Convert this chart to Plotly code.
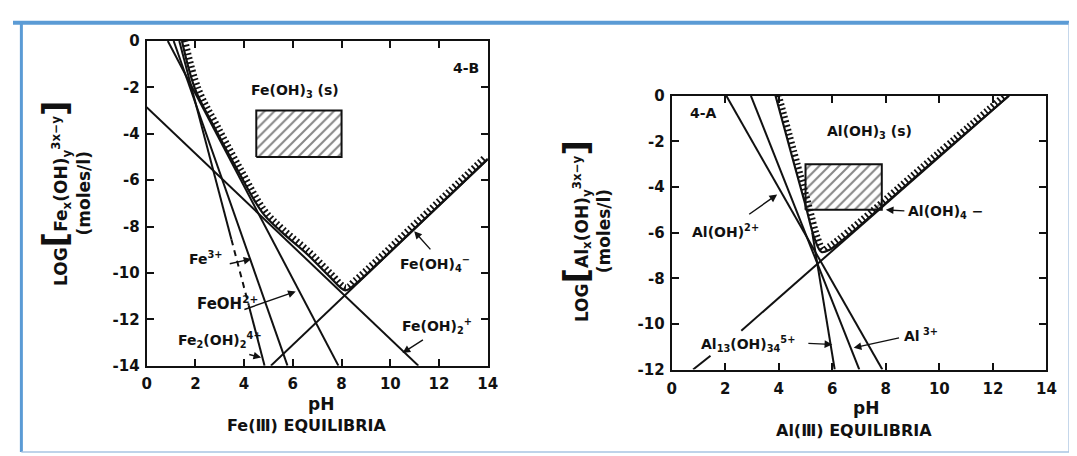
import numpy as np
import plotly.graph_objects as go

W, H = 1077, 456
FONT = "DejaVu Sans"
INK = "#111111"

# ---------------- Fe(III) panel ----------------
fe_ticks = [0, 2, 4, 6, 8, 10, 12, 14]
fe_ytick_vals = [0, -2, -4, -6, -8, -10, -12, -14]
fe_ytick_text = ["0", "-2", "-4", "-6", "-8", "-10", "-12", "-14"]

feoh2_ph, feoh2_log = [0.87, 7.87], [0.0, -14.0]          # FeOH2+
fe3_ph, fe3_log = [1.11, 5.78], [0.0, -14.0]              # Fe3+
fe2oh2_ph = [1.34, 3.48, 4.19, 4.84]                      # Fe2(OH)2 4+
fe2oh2_log = [0.0, -8.56, -11.39, -14.0]
feoh2p_ph, feoh2p_log = [0.0, 11.15], [-2.85, -14.0]      # Fe(OH)2+
feoh4_ph, feoh4_log = [5.1, 14.0], [-14.0, -5.1]          # Fe(OH)4-
fe_sol_ph = [1.45, 2.0, 2.8, 3.75, 4.75, 5.5, 6.6, 7.5, 8.15, 8.6, 9.5, 11.0, 12.5, 14.0]
fe_sol_log = [0.0, -2.1, -3.75, -5.6, -7.4, -8.2, -9.2, -10.15, -10.75, -10.45, -9.58, -8.08, -6.58, -5.08]
fe_box_ph, fe_box_log = [4.5, 8.0], [-5.0, -3.0]

# ---------------- Al(III) panel ----------------
al_ticks = [0, 2, 4, 6, 8, 10, 12, 14]
al_ytick_vals = [0, -2, -4, -6, -8, -10, -12]
al_ytick_text = ["0", "-2", "-4", "-6", "-8", "-10", "-12"]

aloh_ph, aloh_log = [2.04, 7.87], [0.0, -12.0]            # Al(OH)2+
al3_ph, al3_log = [2.96, 7.01], [0.0, -12.0]              # Al3+
al13_ph, al13_log = [5.25, 6.09], [-6.0, -12.0]           # Al13(OH)34 5+
aloh4a_ph, aloh4a_log = [0.8, 1.45], [-12.0, -11.4]       # Al(OH)4- (lower piece)
aloh4b_ph, aloh4b_log = [2.6, 12.6], [-10.3, 0.0]         # Al(OH)4- (main piece)
al_sol_ph = [3.88, 4.6, 5.0, 5.35, 5.6, 5.9, 6.3, 7.0, 8.0, 10.0, 12.6]
al_sol_log = [0.0, -3.1, -4.8, -6.3, -6.85, -6.75, -6.4, -5.72, -4.7, -2.64, 0.0]
al_box_ph, al_box_log = [5.0, 7.85], [-5.0, -3.0]

# ---------------- geometry ----------------
L = dict(x0=135.5, x1=481.5, y0=25, y1=363, xr=[0, 14], yr=[-14, 0])
R = dict(x0=668, x1=1048, y0=82, y1=367, xr=[0, 14], yr=[-12, 0])


def px_scale(p):
    sx = (p["x1"] - p["x0"]) / (p["xr"][1] - p["xr"][0])
    sy = (p["y1"] - p["y0"]) / (p["yr"][1] - p["yr"][0])
    return sx, sy


def hatch_offset(xs, ys, p, d):
    """Shift a curve by d pixels along its upper normal (for the hatch ticks)."""
    sx, sy = px_scale(p)
    X = np.asarray(xs, float) * sx
    Y = np.asarray(ys, float) * sy
    tx, ty = np.gradient(X), np.gradient(Y)
    n = np.hypot(tx, ty)
    nx, ny = -ty / n, tx / n
    return list((X + d * nx) / sx), list((Y + d * ny) / sy)


fig = go.Figure()


def line(xs, ys, xa, ya, dash="solid", width=2.0, shape="linear"):
    fig.add_trace(go.Scatter(x=xs, y=ys, xaxis=xa, yaxis=ya, mode="lines",
                             line=dict(color=INK, width=width, dash=dash, shape=shape),
                             hoverinfo="skip", showlegend=False))


def box(xs, ys, xa, ya):
    fig.add_trace(go.Scatter(x=[xs[0], xs[1], xs[1], xs[0], xs[0]],
                             y=[ys[0], ys[0], ys[1], ys[1], ys[0]],
                             xaxis=xa, yaxis=ya, mode="lines", fill="toself",
                             fillcolor="white",
                             fillpattern=dict(shape="/", fgcolor=INK, bgcolor="white",
                                              size=7, solidity=0.3),
                             line=dict(color=INK, width=2),
                             hoverinfo="skip", showlegend=False))


def solubility(xs, ys, xa, ya, p):
    hx, hy = hatch_offset(xs, ys, p, 3.4)
    fig.add_trace(go.Scatter(x=hx, y=hy, xaxis=xa, yaxis=ya, mode="lines",
                             line=dict(color=INK, width=6, dash="1.8px,2.6px", shape="spline"),
                             hoverinfo="skip", showlegend=False))
    line(xs, ys, xa, ya, width=2.2, shape="spline")


# Fe panel
box(fe_box_ph, fe_box_log, "x", "y")
line(feoh2_ph, feoh2_log, "x", "y")
line(fe3_ph, fe3_log, "x", "y")
line(fe2oh2_ph[:2], fe2oh2_log[:2], "x", "y")
line(fe2oh2_ph[1:3], fe2oh2_log[1:3], "x", "y", dash="6px,5px")
line(fe2oh2_ph[2:], fe2oh2_log[2:], "x", "y")
line(feoh2p_ph, feoh2p_log, "x", "y")
line(feoh4_ph, feoh4_log, "x", "y")
solubility(fe_sol_ph, fe_sol_log, "x", "y", L)

# Al panel
box(al_box_ph, al_box_log, "x2", "y2")
line(aloh_ph, aloh_log, "x2", "y2")
line(al3_ph, al3_log, "x2", "y2")
line(al13_ph, al13_log, "x2", "y2")
line(aloh4a_ph, aloh4a_log, "x2", "y2")
line(aloh4b_ph, aloh4b_log, "x2", "y2")
solubility(al_sol_ph, al_sol_log, "x2", "y2", R)

# ---------------- axes ----------------
def axis_common(tickvals, ticktext, rng):
    return dict(range=rng, tickvals=tickvals, ticktext=ticktext,
                showline=True, linecolor=INK, linewidth=2, mirror="ticks",
                ticks="inside", ticklen=7, tickwidth=1.6, tickcolor=INK,
                showgrid=False, zeroline=False, fixedrange=True,
                tickfont=dict(family=FONT, size=15, color=INK, weight="bold"))


ax_l = axis_common(fe_ticks, [str(v) for v in fe_ticks], L["xr"])
ax_l.update(domain=[L["x0"] / W, L["x1"] / W], anchor="y", ticklabelstandoff=3)
ay_l = axis_common(fe_ytick_vals, fe_ytick_text, L["yr"])
ay_l.update(domain=[1 - L["y1"] / H, 1 - L["y0"] / H], anchor="x", ticklabelstandoff=2)
ax_r = axis_common(al_ticks, [str(v) for v in al_ticks], R["xr"])
ax_r.update(domain=[R["x0"] / W, R["x1"] / W], anchor="y2", ticklabelstandoff=4)
ay_r = axis_common(al_ytick_vals, al_ytick_text, R["yr"])
ay_r.update(domain=[1 - R["y1"] / H, 1 - R["y0"] / H], anchor="x2", ticklabelstandoff=2)

ann = []


def label(x, y, text, xr="x", yr="y", size=14, xanchor="center"):
    ann.append(dict(x=x, y=y, xref=xr, yref=yr, text=text, showarrow=False,
                    xanchor=xanchor, yanchor="middle",
                    font=dict(family=FONT, size=size, color=INK, weight="bold")))


def arrow(tip, tail, xr="x", yr="y"):
    ann.append(dict(x=tip[0], y=tip[1], ax=tail[0], ay=tail[1], xref=xr, yref=yr,
                    axref=xr, ayref=yr, text="", showarrow=True, arrowhead=2,
                    arrowsize=1.1, arrowwidth=1.4, arrowcolor=INK, standoff=0,
                    startstandoff=0))


# Fe labels
label(6.07, -2.14, "Fe(OH)<sub>3</sub> (s)")
label(13.1, -1.17, "4-B")
label(2.43, -9.35, "Fe<sup>3+</sup>")
arrow((4.3, -9.4), (3.35, -9.62))
label(3.3, -11.3, "FeOH<sup>2+</sup>", size=15)
arrow((6.12, -10.8), (3.95, -11.6))
label(3.0, -12.9, "Fe<sub>2</sub>(OH)<sub>2</sub><sup>4+</sup>")
arrow((4.7, -13.65), (4.15, -13.5))
label(11.85, -9.6, "Fe(OH)<sub>4</sub><sup>−</sup>")
arrow((10.98, -8.2), (11.7, -9.05))
label(11.9, -12.3, "Fe(OH)<sub>2</sub><sup>+</sup>")
arrow((10.5, -13.45), (11.4, -12.85))

# Al labels
label(1.18, -0.76, "4-A", "x2", "y2")
label(7.4, -1.6, "Al(OH)<sub>3</sub> (s)", "x2", "y2")
label(2.0, -5.95, "Al(OH)<sup>2+</sup>", "x2", "y2")
arrow((3.94, -4.33), (2.84, -5.24), "x2", "y2")
label(8.75, -5.1, "Al(OH)<sub>4</sub> −", "x2", "y2", xanchor="left")
arrow((8.0, -5.0), (8.75, -5.05), "x2", "y2")
label(8.6, -10.5, "Al<sup> 3+</sup>", "x2", "y2", xanchor="left")
arrow((6.8, -11.05), (8.55, -10.6), "x2", "y2")
label(2.85, -10.9, "Al<sub>13</sub>(OH)<sub>34</sub><sup>5+</sup>", "x2", "y2")
arrow((6.0, -10.9), (5.05, -10.85), "x2", "y2")

# axis titles (paper coordinates)
big = "<span style='font-size:34px'>%s</span>"
label(312 / W, 1 - 403 / H, "pH", "paper", "paper", size=17)
label(298 / W, 1 - 425 / H, "Fe(Ⅲ) EQUILIBRIA", "paper", "paper", size=16)
label(865 / W, 1 - 407 / H, "pH", "paper", "paper", size=17)
label(853 / W, 1 - 430 / H, "Al(Ⅲ) EQUILIBRIA", "paper", "paper", size=16)

ytitle_l = ("LOG" + big % "[" + "Fe<sub>x</sub>(OH)<sub>y</sub><sup>3x−y</sup>" + big % "]"
            + "<br>(moles/l)")
ytitle_r = ("LOG" + big % "[" + "Al<sub>x</sub>(OH)<sub>y</sub><sup>3x−y</sup>" + big % "]"
            + "<br>(moles/l)")
for xx, yy, t in [(52, 183, ytitle_l), (580, 223, ytitle_r)]:
    ann.append(dict(x=xx / W, y=1 - yy / H, xref="paper", yref="paper", text=t,
                    showarrow=False, textangle=-90, xanchor="center", yanchor="middle",
                    font=dict(family=FONT, size=17, color=INK, weight="bold")))

# frame around the picture
shapes = [
    dict(type="line", xref="paper", yref="paper", x0=0, x1=1, y0=1 - 6 / H, y1=1 - 6 / H,
         line=dict(color="#5b9bd5", width=4)),
    dict(type="line", xref="paper", yref="paper", x0=8.5 / W, x1=8.5 / W, y0=1 - 453 / H,
         y1=1 - 6 / H, line=dict(color="#5b9bd5", width=3)),
    dict(type="line", xref="paper", yref="paper", x0=8.5 / W, x1=1071 / W, y0=1 - 453 / H,
         y1=1 - 453 / H, line=dict(color="#a8c4e2", width=1.5)),
    dict(type="line", xref="paper", yref="paper", x0=1071 / W, x1=1071 / W, y0=1 - 453 / H,
         y1=1 - 6 / H, line=dict(color="#a8c4e2", width=1.5)),
]

fig.update_layout(
    width=W, height=H, margin=dict(l=0, r=0, t=0, b=0),
    paper_bgcolor="white", plot_bgcolor="white",
    xaxis=ax_l, yaxis=ay_l, xaxis2=ax_r, yaxis2=ay_r,
    annotations=ann, shapes=shapes, showlegend=False,
    font=dict(family=FONT, color=INK),
)

fig.write_html("out.html", config={"displayModeBar": False})
